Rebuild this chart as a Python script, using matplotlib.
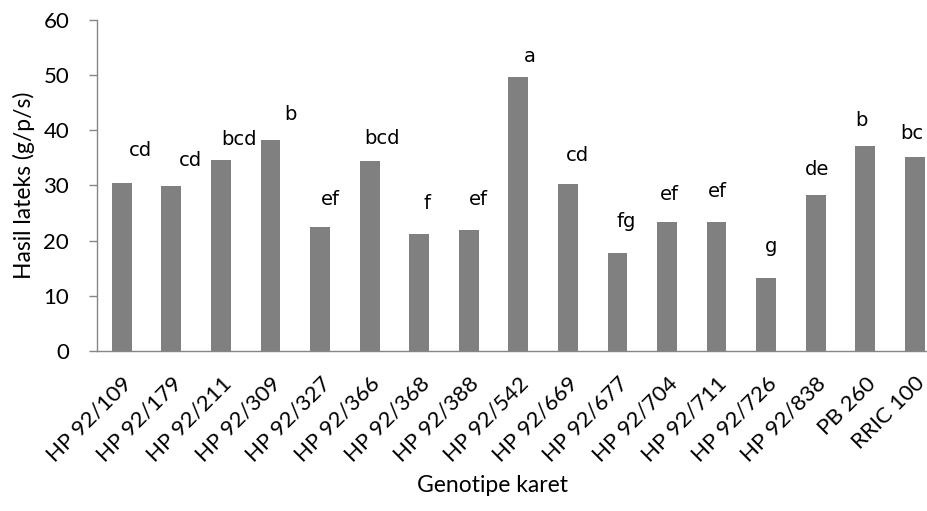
import matplotlib
matplotlib.use("Agg")
import matplotlib.pyplot as plt

genotypes = ["HP 92/109", "HP 92/179", "HP 92/211", "HP 92/309", "HP 92/327",
             "HP 92/366", "HP 92/368", "HP 92/388", "HP 92/542", "HP 92/669",
             "HP 92/677", "HP 92/704", "HP 92/711", "HP 92/726", "HP 92/838",
             "PB 260", "RRIC 100"]
yields = [30.5, 29.9, 34.6, 38.2, 22.4, 34.4, 21.3, 21.9, 49.6, 30.2,
          17.7, 23.3, 23.3, 13.2, 28.2, 37.2, 35.2]
letters = ["cd", "cd", "bcd", "b", "ef", "bcd", "f", "ef", "a", "cd",
           "fg", "ef", "ef", "g", "de", "b", "bc"]
# where the notation letters sit (data units, as placed in the original)
letter_x_shift = [0.38, 0.38, 0.36, 0.40, 0.20, 0.26, 0.16, 0.20, 0.23, 0.20,
                  0.18, 0.04, 0.02, 0.10, 0.02, -0.08, -0.06]
letter_y = [36.4, 34.6, 38.4, 42.8, 27.5, 38.5, 26.8, 27.4, 53.3, 35.5,
            23.4, 28.4, 28.9, 18.9, 32.9, 41.7, 39.5]

plt.rcParams['font.family'] = ['Lato', 'DejaVu Sans']

fig = plt.figure(figsize=(9.28, 5.11), dpi=100)
ax = fig.add_axes([0.1045, 0.313, 0.908, 0.648])

x = list(range(len(genotypes)))
ax.bar(x, yields, width=0.4, color="#808080")

for i in x:
    ax.text(i + letter_x_shift[i], letter_y[i], letters[i], ha="center", va="center",
            fontsize=14, family="DejaVu Sans", color="black")

ax.set_xlim(-0.5, len(genotypes) - 0.5)
ax.set_ylim(0, 60)
ax.set_yticks(range(0, 61, 10))
ax.set_xticks(x)
ax.set_xticklabels(genotypes, rotation=45, ha="right", rotation_mode="anchor", fontsize=16)
ax.tick_params(axis="x", length=0, pad=16)
ax.tick_params(axis="y", labelsize=16, length=6, color="#868686", width=1, pad=14)

for side in ["top", "right"]:
    ax.spines[side].set_visible(False)
for side in ["left", "bottom"]:
    ax.spines[side].set_color("#868686")
    ax.spines[side].set_linewidth(1)

ax.set_ylabel("Hasil lateks (g/p/s)", fontsize=16.5)
ax.yaxis.set_label_coords(-0.074, 0.5)
ax.set_xlabel("Genotipe karet", fontsize=16.5)
ax.xaxis.set_label_coords(0.469, -0.374)

fig.savefig("out.png", dpi=100)
